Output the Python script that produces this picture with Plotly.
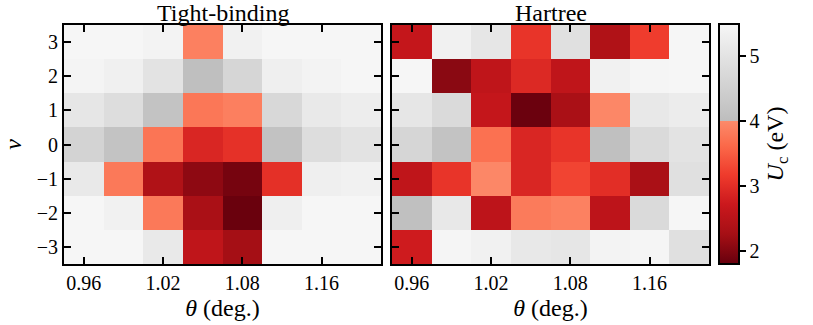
import plotly.graph_objects as go

# ---- data ----
nu = [3, 2, 1, 0, -1, -2, -3]
col_index = [0, 1, 2, 3, 4, 5, 6, 7]
theta_tickvals = [0, 2, 4, 6]
theta_ticktext = ["0.96", "1.02", "1.08", "1.16"]

uc_tight_binding = [
    [5.49, 5.49, 5.41, 3.89, 5.36, 5.49, 5.49, 5.49],
    [5.44, 5.33, 5.01, 4.05, 4.67, 5.31, 5.41, 5.49],
    [5.09, 4.83, 4.16, 3.78, 3.87, 4.72, 5.15, 5.25],
    [4.59, 4.16, 3.76, 2.90, 3.05, 4.13, 4.83, 4.99],
    [5.15, 3.80, 2.39, 2.09, 1.91, 3.03, 5.31, 5.36],
    [5.49, 5.36, 3.80, 2.31, 1.82, 5.31, 5.49, 5.49],
    [5.50, 5.50, 5.15, 2.57, 2.26, 5.50, 5.50, 5.50],
]
uc_hartree = [
    [2.64, 5.36, 5.09, 3.08, 4.93, 2.39, 3.19, 5.50],
    [5.49, 2.06, 2.57, 2.94, 2.57, 5.36, 5.47, 5.49],
    [5.07, 4.75, 2.64, 1.83, 2.32, 3.96, 5.12, 5.23],
    [4.67, 4.16, 3.71, 2.90, 3.08, 4.08, 4.75, 5.01],
    [2.57, 3.08, 3.96, 2.90, 3.27, 3.00, 2.31, 4.93],
    [4.08, 5.12, 2.55, 3.83, 3.90, 2.55, 4.75, 5.50],
    [2.75, 5.47, 5.36, 5.12, 5.09, 5.41, 5.47, 4.91],
]

ZMIN, ZMAX, ZSPLIT = 1.8, 5.5, 4.0

# ---- colorscale: truncated Reds below 4, Greys above ----
reds = [(0.0, "#fff5f0"), (0.125, "#fee0d2"), (0.25, "#fcbba1"), (0.375, "#fc9272"),
        (0.5, "#fb6a4a"), (0.625, "#ef3b2c"), (0.75, "#cb181d"), (0.875, "#a50f15"),
        (1.0, "#67000d")]


def hex2rgb(h):
    h = h.lstrip("#")
    return [int(h[i:i + 2], 16) for i in (0, 2, 4)]


def reds_at(r):
    for (a, ca), (b, cb) in zip(reds[:-1], reds[1:]):
        if a <= r <= b:
            f = (r - a) / (b - a)
            A, B = hex2rgb(ca), hex2rgb(cb)
            return "rgb(%d,%d,%d)" % tuple(round(A[i] + f * (B[i] - A[i])) for i in range(3))
    return reds[-1][1]


scale = []
N = 24
for k in range(N + 1):
    v = ZMIN + (ZSPLIT - ZMIN) * k / N
    r = 1 - (v - ZMIN) / (ZSPLIT - ZMIN) * 0.6
    scale.append([(v - ZMIN) / (ZMAX - ZMIN), reds_at(r)])
fs = (ZSPLIT - ZMIN) / (ZMAX - ZMIN)
scale.append([fs, "rgb(189,189,189)"])
scale.append([1.0, "rgb(246,246,246)"])

FONT = "Liberation Serif"
TICK = 20
LAB = 24

fig = go.Figure()
fig.add_trace(go.Heatmap(z=uc_tight_binding, x=col_index, y=nu, zmin=ZMIN, zmax=ZMAX,
                         colorscale=scale, showscale=False, xaxis="x", yaxis="y"))
fig.add_trace(go.Heatmap(
    z=uc_hartree, x=col_index, y=nu, zmin=ZMIN, zmax=ZMAX, colorscale=scale,
    xaxis="x2", yaxis="y2", showscale=True,
    colorbar=dict(
        x=719 / 813, xanchor="left", y=(325 - 264) / 325, yanchor="bottom",
        len=(264 - 24) / 325, lenmode="fraction", thickness=20, thicknessmode="pixels",
        xpad=0, ypad=0,
        outlinewidth=2, outlinecolor="black", tickvals=[2, 3, 4, 5],
        ticks="outside", ticklen=6, tickwidth=1.5, tickcolor="black",
        tickfont=dict(family=FONT, size=TICK, color="black"),
        title=dict(text="<i>U</i><sub>c</sub> (eV)", side="right",
                   font=dict(family=FONT, size=LAB, color="black")),
    )))

common_x = dict(range=[-0.5, 7.5], tickvals=theta_tickvals, ticktext=theta_ticktext,
                ticks="inside", ticklen=7, tickwidth=1.5, tickcolor="black",
                showline=True, linewidth=2, linecolor="black", mirror="allticks",
                showgrid=False, zeroline=False,
                tickfont=dict(family=FONT, size=TICK, color="black"),
                title=dict(text="<i>θ</i> (deg.)", font=dict(family=FONT, size=LAB, color="black"),
                           standoff=6))
common_y = dict(range=[-3.5, 3.5], tickvals=[-3, -2, -1, 0, 1, 2, 3],
                ticks="inside", ticklen=7, tickwidth=1.5, tickcolor="black",
                showline=True, linewidth=2, linecolor="black", mirror="allticks",
                showgrid=False, zeroline=False,
                tickfont=dict(family=FONT, size=TICK, color="black"))

ydom = [(325 - 264) / 325, (325 - 25) / 325]
fig.update_layout(
    width=813, height=325, margin=dict(l=0, r=0, t=0, b=0, autoexpand=False),
    paper_bgcolor="white", plot_bgcolor="white",
    xaxis=dict(domain=[64 / 813, 381 / 813], anchor="y", **common_x),
    yaxis=dict(domain=ydom, anchor="x",
               ticktext=["\u22123", "\u22122", "\u22121", "0", "1", "2", "3"],
               title=dict(text="<i>ν</i>", font=dict(family=FONT, size=LAB, color="black"),
                          standoff=10),
               **common_y),
    xaxis2=dict(domain=[392 / 813, 709 / 813], anchor="y2", **common_x),
    yaxis2=dict(domain=ydom, anchor="x2", showticklabels=False, **common_y),
    annotations=[
        dict(text="Tight-binding", x=(64 + 381) / 2 / 813, y=ydom[1], xref="paper", yref="paper",
             xanchor="center", yanchor="bottom", showarrow=False, yshift=-3,
             font=dict(family=FONT, size=LAB, color="black")),
        dict(text="Hartree", x=(392 + 709) / 2 / 813, y=ydom[1], xref="paper", yref="paper",
             xanchor="center", yanchor="bottom", showarrow=False, yshift=-3,
             font=dict(family=FONT, size=LAB, color="black")),
    ],
)

fig.write_html("out.html", config={"displayModeBar": False},
               post_script="document.body.style.margin='0px';document.body.style.padding='0px';")
